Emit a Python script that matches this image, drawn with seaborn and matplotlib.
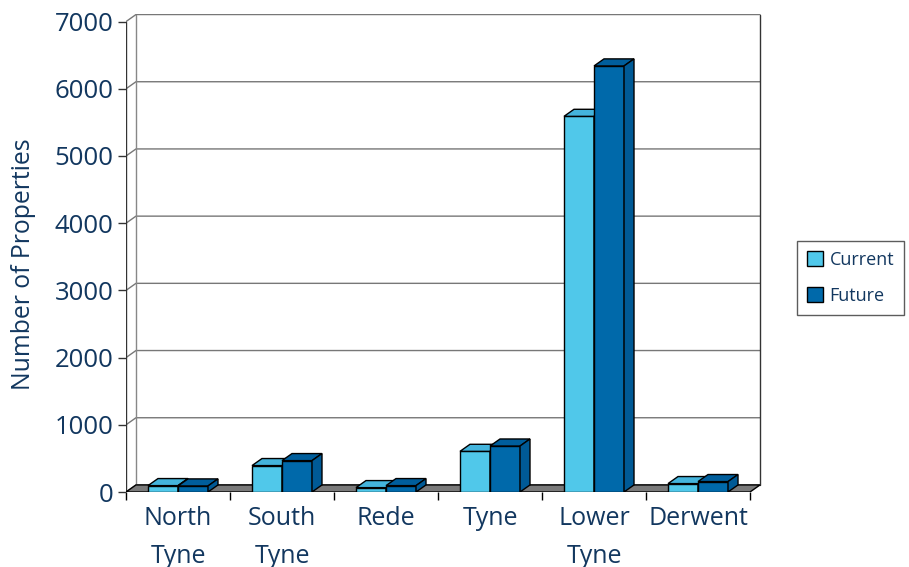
import matplotlib.pyplot as plt
import seaborn as sns
import pandas as pd
from matplotlib.patches import Polygon, Patch

# -----------------------------
# data
# -----------------------------
categories = ["North\nTyne", "South\nTyne", "Rede", "Tyne", "Lower\nTyne", "Derwent"]
current = [95, 393, 65, 605, 5590, 125]
future = [90, 467, 95, 684, 6340, 155]
series = ["Current", "Future"]

df = pd.DataFrame({
    "area": categories * 2,
    "count": current + future,
    "series": ["Current"] * len(categories) + ["Future"] * len(categories),
})

front_cols = {"Current": "#50c8ea", "Future": "#0069aa"}
top_cols = {"Current": "#44b4dc", "Future": "#005e9c"}
side_cols = {"Current": "#3aa4cc", "Future": "#005a96"}
text_col = "#12375f"

sns.set_style("white")
plt.rcParams["font.family"] = ["Open Sans", "DejaVu Sans"]

fig = plt.figure(figsize=(9.09, 5.67), dpi=100)
ax = fig.add_axes([126 / 909, 75 / 567, 636.5 / 909, 477.8 / 567])

sns.barplot(data=df, x="area", y="count", hue="series", order=categories,
            hue_order=series, palette=front_cols, width=0.577, gap=0,
            saturation=1, edgecolor="black", linewidth=1, legend=False, ax=ax)

# 3D depth offset in data units
dx, dy = 0.096, 105

for i, (cont, s) in enumerate(zip(ax.containers, series)):
    for bar in cont:
        bar.set_zorder(3 + i)
        x0, w, h = bar.get_x(), bar.get_width(), bar.get_height()
        top = Polygon([(x0, h), (x0 + w, h), (x0 + w + dx, h + dy), (x0 + dx, h + dy)],
                      closed=True, facecolor=top_cols[s], edgecolor="black", lw=1, zorder=3.5 + i)
        side = Polygon([(x0 + w, 0), (x0 + w + dx, dy), (x0 + w + dx, h + dy), (x0 + w, h)],
                       closed=True, facecolor=side_cols[s], edgecolor="black", lw=1, zorder=3.5 + i)
        ax.add_patch(top)
        ax.add_patch(side)

# walls, gridlines and floor
x_lo, x_hi = -0.5, len(categories) - 0.5
for v in range(0, 8000, 1000):
    ax.plot([x_lo, x_lo + dx, x_hi + dx], [v, v + dy, v + dy], color="#777777", lw=1, zorder=1)
ax.plot([x_lo, x_lo], [0, 7000], color="#333333", lw=1, zorder=1)
ax.plot([x_lo + dx, x_lo + dx], [dy, 7000 + dy], color="#888888", lw=1, zorder=1)
ax.plot([x_hi + dx, x_hi + dx], [dy, 7000 + dy], color="#333333", lw=1, zorder=1)
floor = Polygon([(x_lo, 0), (x_hi, 0), (x_hi + dx, dy), (x_lo + dx, dy)], closed=True,
                facecolor="#7a7a7a", edgecolor="black", lw=1, zorder=2)
ax.add_patch(floor)

ax.set_xlim(x_lo, x_hi + 0.12)
ax.set_ylim(0, 7110)
for sp in ax.spines.values():
    sp.set_visible(False)

ax.set_yticks(range(0, 8000, 1000))
ax.tick_params(axis="y", direction="out", length=6, width=1, color="#333333",
               labelsize=18.5, labelcolor=text_col, left=True, pad=3)
ax.set_xticks(range(len(categories)))
ax.set_xticklabels(categories, linespacing=1.7)
ax.set_xticks([x - 0.5 for x in range(len(categories) + 1)], minor=True)
ax.tick_params(axis="x", which="major", length=0, labelsize=18, labelcolor=text_col, pad=10)
ax.tick_params(axis="x", which="minor", direction="out", length=5.5, width=1, color="black", bottom=True)
ax.set_xlabel("")
ax.set_ylabel("Number of Properties", fontsize=17.8, color=text_col)
ax.yaxis.set_label_coords(-0.142, 0.477)

handles = [Patch(facecolor=front_cols[s], edgecolor="black", label=s) for s in series]
leg = fig.legend(handles=handles, loc="upper left", bbox_to_anchor=(797 / 909, 1 - 241 / 567),
                 frameon=True, fancybox=False, fontsize=13, labelcolor=text_col,
                 handlelength=0.9, handleheight=0.9, borderpad=0.55, labelspacing=1.0,
                 handletextpad=0.35, borderaxespad=0)
leg.get_frame().set_edgecolor("#333333")
leg.get_frame().set_linewidth(1)

fig.savefig("out.png", dpi=100)
